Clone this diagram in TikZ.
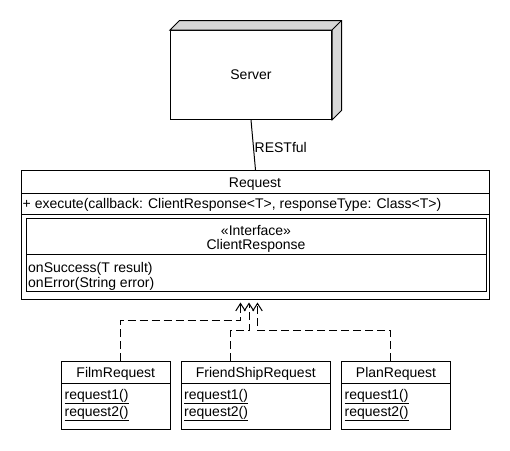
\documentclass[tikz,border=0pt]{standalone}
\usepackage{fontspec}
\setmainfont{Liberation Sans}
\usetikzlibrary{arrows.meta}
\definecolor{facegray}{RGB}{214,214,214}
\tikzset{
  box/.style={draw, line width=1pt, fill=white, inner sep=0pt},
  txt/.style={inner sep=0pt, font=\fontsize{14}{16}\selectfont},
  face/.style={draw, line width=1pt, fill=facegray, line join=miter},
  realize/.style={line width=1pt, dash pattern=on 8pt off 4pt,
    -{Straight Barb[length=7.5pt, width=9.5pt, line width=1pt]}},
  plain/.style={line width=1pt}
}
\begin{document}
\begin{tikzpicture}[x=1pt, y=-1pt]
\useasboundingbox (0,0) rectangle (510,450);

% Server node (3D box)
\node[box, txt, minimum width=161pt, minimum height=89pt, anchor=north west] (server) at (170,30) {Server};
\draw[face] (server.north west) -- ++(9.5,-9.5) -| ([shift={(9.5pt,9.5pt)}]server.south east)
  -- (server.south east) -- (server.north east) -- cycle;
\draw[plain] (server.north east) -- ++(9.5,-9.5);

% Request class
\node[box, minimum width=468pt, minimum height=128.5pt, anchor=north west] (req) at (21,170) {};
\draw[plain] (req.west |- 0,193) -- (req.east |- 0,193);
\draw[plain] (req.west |- 0,214) -- (req.east |- 0,214);
\node[txt, anchor=base] (reqT) at (255,187.5) {Request};
\node[txt, anchor=base west] (exec) at (22.5,208.5) {+ execute(callback: ClientResponse<T>, responseType: Class<T>)};

% ClientResponse interface
\node[box, minimum width=460pt, minimum height=73pt, anchor=north west] (cr) at (26,217.5) {};
\draw[plain] (cr.west |- 0,254) -- (cr.east |- 0,254);
\node[txt, anchor=base] (crS) at (256,235) {«Interface»};
\node[txt, anchor=base] (crT) at (256,249) {ClientResponse};
\node[txt, anchor=base west] (crM1) at (28,272) {onSuccess(T result)};
\node[txt, anchor=base west] (crM2) at (28,287.3) {onError(String error)};

% Server -- Request
\draw[plain] (server.south) -- (req.north);
\node[txt, anchor=base west] (rest) at (254.5,152.5) {RESTful};

% Sub classes
\node[box, minimum width=108.5pt, minimum height=68pt, anchor=north west] (film) at (61,361) {};
\node[box, minimum width=148.5pt, minimum height=68pt, anchor=north west] (friend) at (181,361) {};
\node[box, minimum width=109pt, minimum height=68pt, anchor=north west] (plan) at (341,361) {};
\foreach \n in {film,friend,plan}{
  \draw[plain] (\n.west |- 0,383.5) -- (\n.east |- 0,383.5);
}
\node[txt, anchor=base] (filmT) at (film.center |- 0,377.5) {FilmRequest};
\node[txt, anchor=base west] (filmM1) at (64.5,399) {\underline{request1()}};
\node[txt, anchor=base west] (filmM2) at (64.5,416) {\underline{request2()}};
\node[txt, anchor=base] (friendT) at (friend.center |- 0,377.5) {FriendShipRequest};
\node[txt, anchor=base west] (friendM1) at (184,399) {\underline{request1()}};
\node[txt, anchor=base west] (friendM2) at (184,416) {\underline{request2()}};
\node[txt, anchor=base] (planT) at (plan.center |- 0,377.5) {PlanRequest};
\node[txt, anchor=base west] (planM1) at (344.5,399) {\underline{request1()}};
\node[txt, anchor=base west] (planM2) at (344.5,416) {\underline{request2()}};

% Realization connectors
\coordinate (t1) at (240.5,302.5);
\coordinate (t2) at (249,302.5);
\coordinate (t3) at (257.5,302.5);
\draw[realize] (film.north -| 120.5,0) |- (240.5,320) -- (t1);
\draw[realize] (friend.north -| 230.5,0) |- (249,330.5) -- (t2);
\draw[realize] (plan.north -| 390.5,0) |- (257.5,330.5) -- (t3);
\end{tikzpicture}
\end{document}
